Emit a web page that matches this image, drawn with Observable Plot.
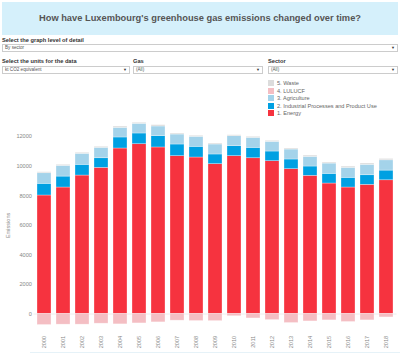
<!DOCTYPE html>
<html>
<head>
<meta charset="utf-8">
<script src="https://cdn.jsdelivr.net/npm/d3@7"></script>
<script src="https://cdn.jsdelivr.net/npm/@observablehq/plot@0.6"></script>
<style>
  html, body { margin: 0; padding: 0; background: #fff; }
  body { font-family: "Liberation Sans", Arial, sans-serif; }
  #wrap { position: relative; width: 400px; height: 354px; overflow: hidden; }
  .abs { position: absolute; }
  #banner { left: 2px; top: 2px; width: 396px; height: 33px; background: #d5f0fb; }
  #title { left: 0; top: 13px; width: 400px; text-align: center; font-weight: bold; font-size: 9.3px; color: #555; line-height: 11px; white-space: nowrap; }
  .lbl { font-weight: bold; font-size: 5.7px; color: #333; line-height: 7px; white-space: nowrap; }
  .dd { border: 1px solid #ccc; background: #fff; box-sizing: border-box; font-size: 4.6px; color: #555; line-height: 6px; padding-left: 2px; white-space: nowrap; }
  .dd .arr { position: absolute; right: 2px; top: 0; font-size: 4px; color: #333; }
  #legend { left: 268px; top: 80px; font-size: 5.6px; color: #666; }
  .li { position: absolute; left: 0; white-space: nowrap; line-height: 7px; }
  .sw { display: inline-block; width: 6px; height: 6px; vertical-align: -1px; margin-right: 3px; }
  #chart { left: 0; top: 0; }
  #bottomline { left: 30px; top: 352px; width: 370px; height: 1px; background: #e6f2f8; }
</style>
</head>
<body>
<div id="wrap">
  <div id="banner" class="abs"></div>
  <div id="title" class="abs">How have Luxembourg's greenhouse gas emissions changed over time?</div>
  <div class="abs lbl" style="left:2px;top:36.5px">Select the graph level of detail</div>
  <div class="abs dd" style="left:2px;top:43.5px;width:396px;height:8px">By sector<span class="arr">▼</span></div>
  <div class="abs lbl" style="left:2px;top:58px">Select the units for the data</div>
  <div class="abs lbl" style="left:133px;top:58px">Gas</div>
  <div class="abs lbl" style="left:268px;top:58px">Sector</div>
  <div class="abs dd" style="left:2px;top:66px;width:128px;height:7.5px">kt CO2 equivalent<span class="arr">▼</span></div>
  <div class="abs dd" style="left:133px;top:66px;width:130px;height:7.5px">(All)<span class="arr">▼</span></div>
  <div class="abs dd" style="left:268px;top:66px;width:130px;height:7.5px">(All)<span class="arr">▼</span></div>
  <div id="chart" class="abs"></div>
  <div id="legend" class="abs"></div>
  <div id="bottomline" class="abs"></div>
</div>
<script>
const years = ["2000","2001","2002","2003","2004","2005","2006","2007","2008","2009","2010","2011","2012","2013","2014","2015","2016","2017","2018"];
const sectors = ["1. Energy", "2. Industrial Processes and Product Use", "3. Agriculture", "4. LULUCF", "5. Waste"];
const sectorColors = ["#f6333f", "#00a0e2", "#a4d3ea", "#f4bec3", "#dcdcdc"];
const energy      = [8020, 8560, 9370, 9890, 11200, 11490, 11270, 10680, 10590, 10140, 10680, 10540, 10340, 9800, 9350, 8830, 8560, 8740, 9050];
const industrial  = [790, 740, 725, 650, 745, 725, 765, 790, 725, 655, 675, 705, 655, 655, 630, 655, 655, 650, 655];
const agriculture = [715, 725, 745, 705, 655, 655, 655, 675, 675, 675, 675, 675, 655, 675, 655, 695, 675, 705, 695];
const lulucf      = [-745, -720, -720, -655, -700, -635, -565, -450, -475, -480, -150, -300, -410, -610, -500, -430, -540, -430, -230];
const waste       = [70, 70, 70, 70, 85, 70, 90, 70, 70, 70, 70, 70, 70, 70, 85, 70, 85, 90, 95];
const yTicks = [0, 2000, 4000, 6000, 8000, 10000, 12000];

const series = [energy, industrial, agriculture, lulucf, waste];
const rows = [];
years.forEach((yr, i) => {
  sectors.forEach((s, k) => rows.push({year: yr, sector: s, value: series[k][i]}));
});

const chart = Plot.plot({
  width: 400,
  height: 354,
  marginLeft: 33.45,
  marginRight: 3.45,
  marginTop: 121.4,
  marginBottom: 25.7,
  style: {fontFamily: "'Liberation Sans', Arial, sans-serif", fontSize: "5.6px", color: "#888", background: "transparent", overflow: "visible"},
  x: {domain: years, paddingInner: 0.267, paddingOuter: 0.133, label: null, tickSize: 0, tickRotate: -90, tickPadding: 7},
  y: {domain: [-1000, 13000], ticks: yTicks, tickFormat: d => String(d), tickSize: 0, tickPadding: 2, label: "Emissions", labelAnchor: "center", labelOffset: 28, labelArrow: "none"},
  color: {domain: sectors, range: sectorColors},
  marks: [
    Plot.ruleY([0], {stroke: "#eeeeee", strokeWidth: 1}),
    Plot.barY(rows, {x: "year", y: "value", fill: "sector", z: "sector", stroke: "#ffffff", strokeWidth: 0.6, strokeOpacity: 0.5})
  ]
});
document.getElementById("chart").appendChild(chart);

const legend = document.getElementById("legend");
const legendOrder = [4, 3, 2, 1, 0];
legendOrder.forEach((k, j) => {
  const d = document.createElement("div");
  d.className = "li";
  d.style.top = (j * 7.5) + "px";
  d.innerHTML = `<span class="sw" style="background:${sectorColors[k]}"></span>${sectors[k]}`;
  legend.appendChild(d);
});
</script>
</body>
</html>
